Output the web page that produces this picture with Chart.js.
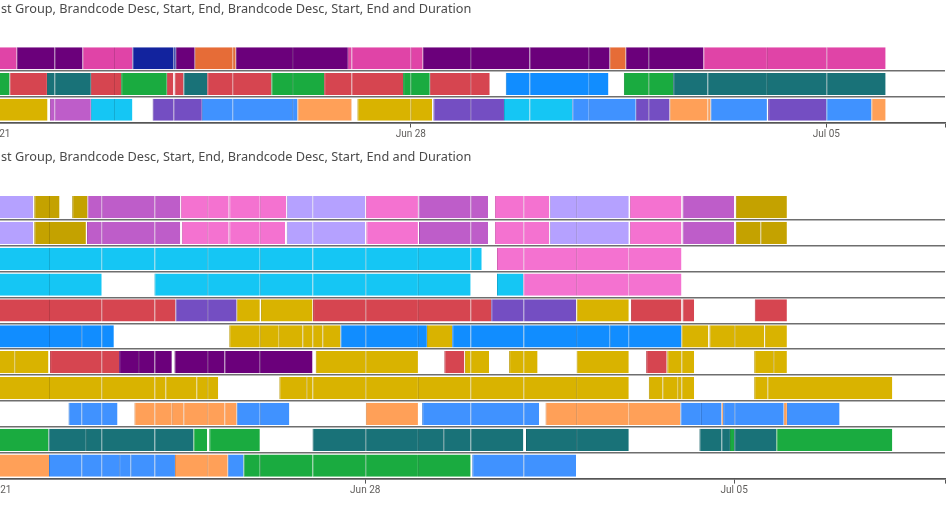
<!DOCTYPE html>
<html><head><meta charset="utf-8">
<script src="https://cdn.jsdelivr.net/npm/chart.js@4"></script>
<style>
html,body{margin:0;padding:0;background:#fff;overflow:hidden;width:949px;height:505px;position:relative}
.title{position:absolute;left:1px;white-space:nowrap;color:#4a4a4a;font-family:'Noto Sans',sans-serif;font-size:13px;line-height:16px}
canvas{position:absolute}
</style></head><body>
<canvas id="c1" width="1009" height="160" style="left:-60px;top:0"></canvas>
<canvas id="c2" width="1009" height="345" style="left:-60px;top:160px"></canvas>
<div class="title" id="t1" style="top:0px"></div>
<div class="title" id="t2" style="top:148px"></div>
<script>
// ---- text ----
const titleText = "st Group, Brandcode Desc, Start, End, Brandcode Desc, Start, End and Duration";
// ---- axis ticks (days from Jun 21) ----
const tickDays = [0, 7, 14];
const tickLabels = ["Jun 21", "Jun 28", "Jul 05"];
const topMaxDay = 16;
const bottomMaxDay = 18;
// ---- brand colours ----
const palette = {pink:'#E044A7', purple:'#6B007B', navy:'#12239E', orange:'#E66C37', green:'#1AAB40',
  red:'#D64550', teal:'#197278', blue:'#118DFF', gold:'#D9B300', lilac:'#BE5DC9', cyan:'#15C6F4',
  violet:'#744EC2', lblue:'#4092FF', lorange:'#FFA058', lav:'#B5A1FF', dgold:'#C4A200', lpink:'#F472D0'};
// ---- categories ----
const topCategories = ["Row 1", "Row 2", "Row 3"];
const bottomCategories = ["Row 1","Row 2","Row 3","Row 4","Row 5","Row 6","Row 7","Row 8","Row 9","Row 10","Row 11"];
// ---- records: [start day, end day, brand] ----
const topRow1 = [[0,0.36,'pink'],[0.36,1,'purple'],[1,1.47,'purple'],[1.47,2,'pink'],[2,2.31,'pink'],[2.31,3,'navy'],[3,3.04,'navy'],[3.04,3.36,'purple'],[3.36,4,'orange'],[4,4.05,'orange'],[4.05,5,'purple'],[5,5.94,'purple'],[5.94,6,'pink'],[6,7,'pink'],[7,7.2,'pink'],[7.2,8,'purple'],[8,9,'purple'],[9,10,'purple'],[10,10.35,'purple'],[10.35,10.62,'orange'],[10.62,11,'purple'],[11,11.93,'purple'],[11.93,13,'pink'],[13,14,'pink'],[14,15,'pink']];
const topRow2 = [[0,0.24,'green'],[0.24,0.87,'red'],[0.87,1,'teal'],[1,1.61,'teal'],[1.61,2,'red'],[2,2.12,'red'],[2.12,2.89,'green'],[2.89,3,'red'],[3.02,3.17,'red'],[3.17,3.57,'teal'],[3.57,4,'red'],[4,4.65,'red'],[4.65,5,'green'],[5,5.54,'green'],[5.54,6,'red'],[6,6.87,'red'],[6.87,7,'green'],[7,7.32,'green'],[7.32,8,'red'],[8,8.33,'red'],[8.6,9,'blue'],[9,10,'blue'],[10,10.33,'blue'],[10.59,11,'green'],[11,11.42,'green'],[11.42,12,'teal'],[12,13,'teal'],[13,14,'teal'],[14,15,'teal']];
const topRow3 = [[0,0.88,'gold'],[0.92,1,'lilac'],[1,1.61,'lilac'],[1.61,2,'cyan'],[2,2.31,'cyan'],[2.65,3,'violet'],[3,3.48,'violet'],[3.48,4,'lblue'],[4,5,'lblue'],[5,5.09,'lblue'],[5.09,6,'lorange'],[6,6.01,'lorange'],[6.1,7,'gold'],[7,7.36,'gold'],[7.38,8,'violet'],[8,8.57,'violet'],[8.57,9,'cyan'],[9,9.72,'cyan'],[9.72,10,'lblue'],[10,10.79,'lblue'],[10.79,11,'violet'],[11,11.36,'violet'],[11.36,12,'lorange'],[12,12.05,'lorange'],[12.05,13,'lblue'],[13.02,14,'violet'],[14,14.76,'lblue'],[14.76,15,'lorange']];

const botRow1 = [[0,0.70,'lav'],[0.72,1,'dgold'],[1,1.2,'dgold'],[1.44,1.73,'dgold'],[1.73,2,'lilac'],[2,3,'lilac'],[3,3.49,'lilac'],[3.5,4,'lpink'],[4,4.41,'lpink'],[4.42,5,'lpink'],[5,5.5,'lpink'],[5.51,6,'lav'],[6,7,'lav'],[7.01,8,'lpink'],[8.01,9,'lilac'],[9,9.33,'lilac'],[9.46,10,'lpink'],[10,10.49,'lpink'],[10.5,11,'lav'],[11,12,'lav'],[12.02,13,'lpink'],[13.02,14,'lilac'],[14.03,15,'dgold']];
const botRow2 = [[0,0.70,'lav'],[0.72,1,'dgold'],[1,1.7,'dgold'],[1.72,2,'lilac'],[2,3,'lilac'],[3,3.49,'lilac'],[3.52,4,'lpink'],[4,4.41,'lpink'],[4.42,5,'lpink'],[5,5.48,'lpink'],[5.51,6,'lav'],[6,7,'lav'],[7.02,8,'lpink'],[8.02,9,'lilac'],[9,9.33,'lilac'],[9.46,10,'lpink'],[10,10.49,'lpink'],[10.5,11,'lav'],[11,12,'lav'],[12.02,13,'lpink'],[13.02,14,'lilac'],[14.03,14.5,'dgold'],[14.5,15,'dgold']];
const botRow3 = [[0,1,'cyan'],[1,2,'cyan'],[2,3,'cyan'],[3,4,'cyan'],[4,5,'cyan'],[5,6,'cyan'],[6,7,'cyan'],[7,8,'cyan'],[8,9,'cyan'],[9,9.21,'cyan'],[9.5,10,'lpink'],[10,11,'lpink'],[11,12,'lpink'],[12,13,'lpink']];
const botRow4 = [[0,1,'cyan'],[1,2,'cyan'],[3,4,'cyan'],[4,5,'cyan'],[5,6,'cyan'],[6,7,'cyan'],[7,8,'cyan'],[8,9,'cyan'],[9.5,10,'cyan'],[10,11,'lpink'],[11,12,'lpink'],[12,13,'lpink']];
const botRow5 = [[0,1,'red'],[1,2,'red'],[2,3,'red'],[3,3.4,'red'],[3.4,4,'violet'],[4,4.56,'violet'],[4.56,5,'gold'],[5.02,6,'gold'],[6.01,7,'red'],[7,8,'red'],[8,9,'red'],[9,9.39,'red'],[9.39,10,'violet'],[10,11,'violet'],[11.01,12,'gold'],[12.04,13,'red'],[13.02,13.24,'red'],[14.39,15,'red']];
const botRow6 = [[0,1,'blue'],[1,1.61,'blue'],[1.61,2,'blue'],[2,2.23,'blue'],[4.42,5,'gold'],[5,5.36,'gold'],[5.36,5.81,'gold'],[5.81,6,'gold'],[6,6.19,'gold'],[6.19,6.53,'gold'],[6.53,7,'blue'],[7,8,'blue'],[8,8.17,'blue'],[8.17,8.65,'gold'],[8.65,9,'blue'],[9,10,'blue'],[10,11,'blue'],[11,11.64,'blue'],[11.64,12,'blue'],[12,13,'blue'],[13,13.51,'gold'],[13.53,14,'gold'],[14,14.57,'gold'],[14.58,15,'gold']];
const botRow7 = [[0,0.35,'gold'],[0.35,0.99,'gold'],[1.02,2,'red'],[2,2.33,'red'],[2.33,2.69,'purple'],[2.69,3,'purple'],[3,3.33,'purple'],[3.38,4,'purple'],[4,4.33,'purple'],[4.33,5,'purple'],[5,6,'purple'],[6.06,7,'gold'],[7,8,'gold'],[8.5,8.88,'red'],[8.89,9,'gold'],[9,9.35,'gold'],[9.73,10,'gold'],[10,10.27,'gold'],[11.01,12,'gold'],[12.33,12.72,'red'],[12.73,13,'gold'],[13,13.24,'gold'],[14.38,14.74,'gold'],[14.74,15,'gold']];
const botRow8 = [[0,1,'gold'],[1,2,'gold'],[2,3,'gold'],[3,3.21,'gold'],[3.21,3.8,'gold'],[3.8,4,'gold'],[4,4.21,'gold'],[5.37,5.88,'gold'],[5.88,6,'gold'],[6,7,'gold'],[7,8,'gold'],[8,9,'gold'],[9,10,'gold'],[10,11,'gold'],[11,12,'gold'],[12.38,12.64,'gold'],[12.64,12.93,'gold'],[12.93,13,'gold'],[13,13.24,'gold'],[14.38,14.63,'gold'],[14.63,17,'gold']];
const botRow9 = [[1.37,1.62,'lblue'],[1.62,2,'lblue'],[2,2.3,'lblue'],[2.62,3,'lorange'],[3,3.33,'lorange'],[3.33,3.55,'lorange'],[3.55,4,'lorange'],[4,4.33,'lorange'],[4.33,4.56,'lorange'],[4.56,5,'lblue'],[5,5.56,'lblue'],[7.01,8,'lorange'],[8.08,9,'lblue'],[9,10,'lblue'],[10,10.3,'lblue'],[10.42,11,'lorange'],[11,12,'lorange'],[12,12.98,'lorange'],[12.98,13.37,'lblue'],[13.37,13.76,'lblue'],[13.76,13.79,'lorange'],[13.79,14,'lblue'],[14,14.94,'lblue'],[14.94,15,'lorange'],[15,16,'lblue']];
const botRow10 = [[0,0.99,'green'],[0.99,1.7,'teal'],[1.7,2,'teal'],[2,3,'teal'],[3,3.74,'teal'],[3.74,4,'green'],[4.04,5,'green'],[6,7,'teal'],[7,8,'teal'],[8,8.48,'teal'],[8.48,9,'teal'],[9,10,'teal'],[10.05,11,'teal'],[11,12,'teal'],[13.34,13.76,'teal'],[13.76,13.92,'teal'],[13.92,14,'green'],[14,14.8,'teal'],[14.8,17,'green']];
const botRow11 = [[0,1,'lorange'],[1,1.62,'lblue'],[1.62,2,'lblue'],[2,2.33,'lblue'],[2.33,2.55,'lblue'],[2.55,3,'lblue'],[3,3.39,'lblue'],[3.39,4,'lorange'],[4,4.39,'lorange'],[4.39,4.69,'lblue'],[4.69,5,'green'],[5,6,'green'],[6,7,'green'],[7,8,'green'],[8,9,'green'],[9.03,10,'lblue'],[10,11,'lblue']];

const topRows = [topRow1, topRow2, topRow3];
const bottomRows = [botRow1, botRow2, botRow3, botRow4, botRow5, botRow6, botRow7, botRow8, botRow9, botRow10, botRow11];

// ---- titles ----
(function(){
  const ctx = document.createElement('canvas').getContext('2d');
  ctx.font = "13px 'Noto Sans'";
  const w = ctx.measureText(titleText).width;
  const size = 13 * 471 / w;
  ['t1','t2'].forEach(id => { const el = document.getElementById(id); el.textContent = titleText; el.style.fontSize = size + 'px'; });
})();

function shade(hex, f){
  const n = parseInt(hex.slice(1), 16);
  const r = Math.round(((n >> 16) & 255) * f), g = Math.round(((n >> 8) & 255) * f), b = Math.round((n & 255) * f);
  return 'rgb(' + r + ',' + g + ',' + b + ')';
}

function buildDatasets(rows){
  const n = Math.max(...rows.map(r => r.length));
  const ds = [];
  for (let i = 0; i < n; i++) {
    ds.push({
      data: rows.map(r => r[i] ? [r[i][0], r[i][1]] : null),
      backgroundColor: rows.map(r => r[i] ? palette[r[i][2]] : 'rgba(0,0,0,0)'),
      borderColor: rows.map(r => r[i] ? shade(palette[r[i][2]], 0.86) : 'rgba(0,0,0,0)'),
      borderWidth: {left:1, right:0, top:0, bottom:0},
      borderSkipped: false,
      barPercentage: 0.86,
      categoryPercentage: 1,
      grouped: false
    });
  }
  return ds;
}

function makeChart(id, labels, rows, maxDay, pad){
  return new Chart(document.getElementById(id), {
    type: 'bar',
    data: {labels: labels, datasets: buildDatasets(rows)},
    options: {
      indexAxis: 'y', responsive: false, animation: false, devicePixelRatio: 1,
      layout: {padding: pad},
      plugins: {legend: {display: false}, tooltip: {enabled: false}, title: {display: false}},
      scales: {
        x: {
          type: 'linear', min: 0, max: maxDay, position: 'bottom',
          afterBuildTicks: s => { s.ticks = tickDays.map(v => ({value: v})).concat([{value: maxDay}]); },
          afterFit: s => { s.height = 24; },
          ticks: {autoSkip: false, maxRotation: 0, padding: 1, color: '#605E5C',
            font: {family: 'Roboto', size: 10},
            callback: v => { const i = tickDays.indexOf(v); return i >= 0 ? tickLabels[i] : ''; }},
          grid: {drawOnChartArea: false, drawTicks: true, tickLength: 5, color: '#555', lineWidth: 1},
          border: {display: true, color: '#555', width: 1.5}
        },
        y: {
          type: 'category', position: 'left',
          afterFit: s => { s.width = 0; },
          ticks: {display: false},
          grid: {offset: true, drawTicks: false, tickLength: 0, lineWidth: 1.6,
            color: c => c.index === 0 ? 'rgba(0,0,0,0)' : '#6e6e6e'},
          border: {display: false}
        }
      }
    }
  });
}

makeChart('c1', topCategories, topRows, topMaxDay, {left: 55.3, right: 4, top: 45.5, bottom: 13.5});
makeChart('c2', bottomCategories, bottomRows, bottomMaxDay, {left: 56.3, right: 4, top: 34.1, bottom: 2.4});
</script>
</body></html>
